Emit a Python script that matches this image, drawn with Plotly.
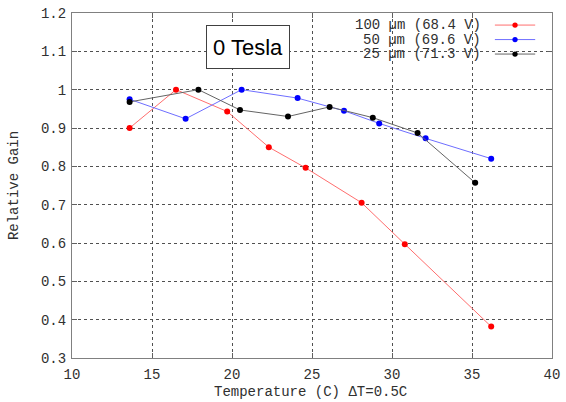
import plotly.graph_objects as go

# Data
t_100 = [13.6, 16.5, 19.7, 22.3, 24.6, 28.1, 30.8, 36.2]
g_100 = [0.900, 1.000, 0.943, 0.850, 0.796, 0.705, 0.597, 0.382]

t_50 = [13.6, 17.1, 20.6, 24.1, 27.0, 29.2, 32.1, 36.2]
g_50 = [0.975, 0.924, 1.000, 0.978, 0.945, 0.912, 0.873, 0.820]

t_25 = [13.6, 17.9, 20.5, 23.5, 26.1, 28.8, 31.6, 35.2]
g_25 = [0.968, 1.000, 0.947, 0.930, 0.955, 0.927, 0.887, 0.757]

names = ["100 µm (68.4 V)", "50 µm (69.6 V)", "25 µm (71.3 V)"]
line_colors = ["rgb(255,110,110)", "rgb(110,110,255)", "rgb(100,100,100)"]
marker_colors = ["#ff0000", "#0000ff", "#000000"]

x_ticks = [10, 15, 20, 25, 30, 35, 40]
y_ticks = [0.3, 0.4, 0.5, 0.6, 0.7, 0.8, 0.9, 1.0, 1.1, 1.2]
y_tick_text = ["0.3", "0.4", "0.5", "0.6", "0.7", "0.8", "0.9", "1", "1.1", "1.2"]

x_title = "Temperature (C) ΔT=0.5C"
y_title = "Relative Gain"

series = [(t_100, g_100), (t_50, g_50), (t_25, g_25)]

MONO = "Liberation Mono"

fig = go.Figure()
for (xs, ys), nm, lc, mc in zip(series, names, line_colors, marker_colors):
    fig.add_trace(go.Scatter(
        x=xs, y=ys, mode="lines+markers", name=nm,
        line=dict(color=lc, width=1),
        marker=dict(color=mc, size=6),
        showlegend=False,
    ))

# custom legend (text left, sample right) like the reference
leg_y = [0.965, 0.923, 0.881]
for nm, lc, mc, ly in zip(names, line_colors, marker_colors, leg_y):
    fig.add_annotation(xref="paper", yref="paper", x=0.857, y=ly,
                       text=nm, showarrow=False, xanchor="right", yanchor="middle",
                       font=dict(family=MONO, size=14, color="#303030"))
    fig.add_shape(type="line", xref="paper", yref="paper",
                  x0=0.881, x1=0.965, y0=ly, y1=ly,
                  line=dict(color=lc, width=1))
    fig.add_shape(type="circle", xref="paper", yref="paper",
                  x0=0.923 - 0.0055, x1=0.923 + 0.0055,
                  y0=ly - 0.0077, y1=ly + 0.0077,
                  fillcolor=mc, line=dict(color=mc, width=0))

fig.add_annotation(x=21.0, y=1.112, text="0 Tesla", showarrow=False,
                   font=dict(family="Liberation Sans", size=22, color="black"),
                   bordercolor="#404040", borderwidth=1, bgcolor="white",
                   width=78, height=38, borderpad=2)

# x-axis title as annotation, placed low as in the reference but inside the page
fig.add_annotation(xref="paper", yref="paper", x=0.497, y=0, yshift=-34,
                   text=x_title, showarrow=False,
                   xanchor="center", yanchor="middle",
                   font=dict(family=MONO, size=14, color="#303030"))

axis_common = dict(
    showline=True, linecolor="#808080", linewidth=1, mirror="allticks",
    ticks="inside", ticklen=5, tickcolor="#606060",
    showgrid=True, gridcolor="#505050", griddash="dot", gridwidth=1,
    zeroline=False, automargin=False,
    tickfont=dict(family=MONO, size=14, color="#303030"),
)

fig.update_xaxes(range=[10, 40], tickvals=x_ticks, ticklabelstandoff=3,
                 **axis_common)
fig.update_yaxes(range=[0.3, 1.2], tickvals=y_ticks, ticktext=y_tick_text,
                 ticklabelstandoff=2,
                 title=dict(text=y_title, standoff=19,
                            font=dict(family=MONO, size=14, color="#303030")),
                 **axis_common)

fig.update_layout(
    width=566, height=402,
    margin=dict(l=72, r=14, t=13, b=44),
    paper_bgcolor="white", plot_bgcolor="white",
)

# remove the default page margin so the figure fills the window
fig.write_html("out.html", config={"displayModeBar": False},
               post_script="document.body.style.margin='0';")
